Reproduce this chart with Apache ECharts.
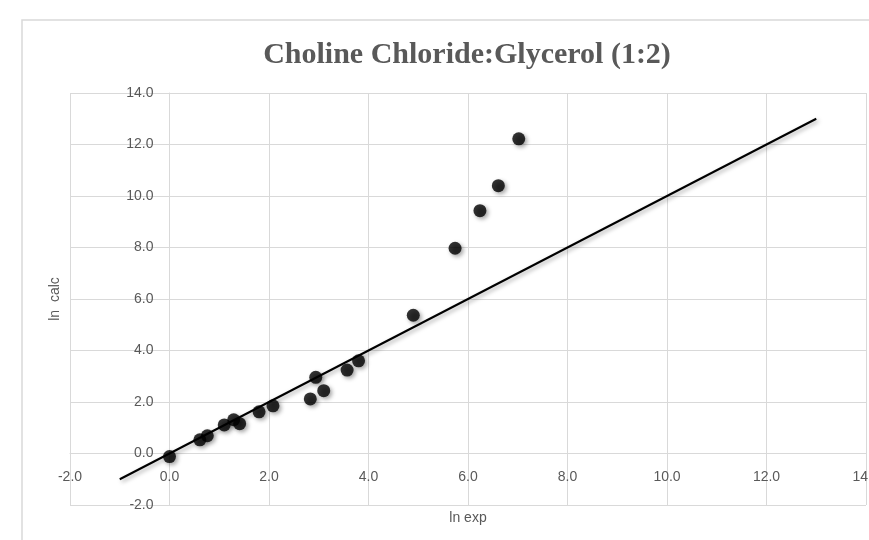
<!DOCTYPE html>
<html>
	<head>
		<meta charset="utf-8">
		<title>Choline Chloride:Glycerol (1:2)</title>
		<script src="https://cdn.jsdelivr.net/npm/echarts@6/dist/echarts.min.js"></script>
		<style>
			html, body {
				margin: 0;
				padding: 0;
				background: #ffffff;
			}

			#chart {
				width: 869px;
				height: 540px;
			}
		</style>
	</head>
	<body>
		<div id="chart"></div>
		<script>
			// 数据点 (ln exp, ln calc)
			var lnExp = [0.00, 0.61, 0.76, 1.10, 1.29, 1.41, 1.80, 2.08, 2.83, 2.94, 3.10, 3.57, 3.80, 4.90, 5.74, 6.24, 6.61, 7.02];
			var lnCalc = [-0.12, 0.53, 0.69, 1.11, 1.31, 1.16, 1.62, 1.85, 2.12, 2.96, 2.44, 3.24, 3.60, 5.37, 7.97, 9.43, 10.40, 12.22];
			// y = x 参考线
			var lineX = [-1, 13];
			var lineY = [-1, 13];
			// 坐标轴范围
			var axisMin = -2;
			var axisMax = 14;
			var axisStep = 2;

			var points = lnExp.map(function(v, i) {
				return [v, lnCalc[i]];
			});
			var linePts = lineX.map(function(v, i) {
				return [v, lineY[i]];
			});

			var gray = '#595959';
			var gridColor = '#d9d9d9';
			var labelFont = 'Liberation Sans';

			// 绘图区
			var gridW = 796, gridH = 412;
			// 坐标轴放在 0 处（onZero 在这里不生效，用 offset 代替）
			var zeroFrac = (0 - axisMin) / (axisMax - axisMin);
			var xAxisOffset = -zeroFrac * gridH;
			var yAxisOffset = -zeroFrac * gridW;

			var chart = echarts.init(document.getElementById('chart'));

			var option = {
				animation: false,
				backgroundColor: '#ffffff',
				title: {
					text: 'Choline Chloride:Glycerol (1:2)',
					left: 462,
					top: 35,
					textAlign: 'center',
					textStyle: {
						fontFamily: 'Liberation Serif',
						fontWeight: 'bold',
						fontSize: 30,
						color: gray
					}
				},
				graphic: [{
					type: 'rect',
					z: -10,
					shape: { x: 22, y: 20, width: 900, height: 600 },
					style: { fill: 'none', stroke: gridColor, lineWidth: 1.5 }
				}],
				grid: {
					left: 70,
					top: 93,
					width: gridW,
					height: gridH,
					containLabel: false,
					outerBoundsMode: 'none'
				},
				xAxis: {
					type: 'value',
					min: axisMin,
					max: axisMax,
					interval: axisStep,
					offset: xAxisOffset,
					name: 'ln exp',
					nameLocation: 'middle',
					nameGap: 58,
					nameTextStyle: { fontFamily: labelFont, fontSize: 14, color: gray },
					axisLine: { show: true, onZero: false, lineStyle: { color: gridColor } },
					axisTick: { show: false },
					axisLabel: {
						margin: 17,
						fontFamily: labelFont,
						fontSize: 14,
						color: gray,
						showMinLabel: true,
						showMaxLabel: true,
						formatter: function(v) { return v.toFixed(1); }
					},
					splitLine: { show: true, lineStyle: { color: gridColor } }
				},
				yAxis: {
					type: 'value',
					min: axisMin,
					max: axisMax,
					interval: axisStep,
					offset: yAxisOffset,
					name: 'ln  calc',
					nameLocation: 'middle',
					nameGap: 107,
					nameTextStyle: { fontFamily: labelFont, fontSize: 14, color: gray },
					axisLine: { show: true, onZero: false, lineStyle: { color: gridColor } },
					axisTick: { show: false },
					axisLabel: {
						margin: 16,
						fontFamily: labelFont,
						fontSize: 14,
						color: gray,
						showMinLabel: true,
						showMaxLabel: true,
						formatter: function(v) { return v.toFixed(1); }
					},
					splitLine: { show: true, lineStyle: { color: gridColor } }
				},
				series: [
					{
						name: 'y = x',
						type: 'line',
						data: linePts,
						showSymbol: false,
						lineStyle: {
							color: '#000000',
							width: 2,
							shadowBlur: 4,
							shadowColor: 'rgba(0, 0, 0, 0.35)',
							shadowOffsetX: 2,
							shadowOffsetY: 2
						}
					},
					{
						name: 'ln calc',
						type: 'scatter',
						data: points,
						symbolSize: 13,
						itemStyle: {
							color: '#000000',
							shadowBlur: 4,
							shadowColor: 'rgba(0, 0, 0, 0.45)',
							shadowOffsetX: 2,
							shadowOffsetY: 2
						}
					}
				]
			};
			chart.setOption(option);
		</script>
	</body>
</html>
